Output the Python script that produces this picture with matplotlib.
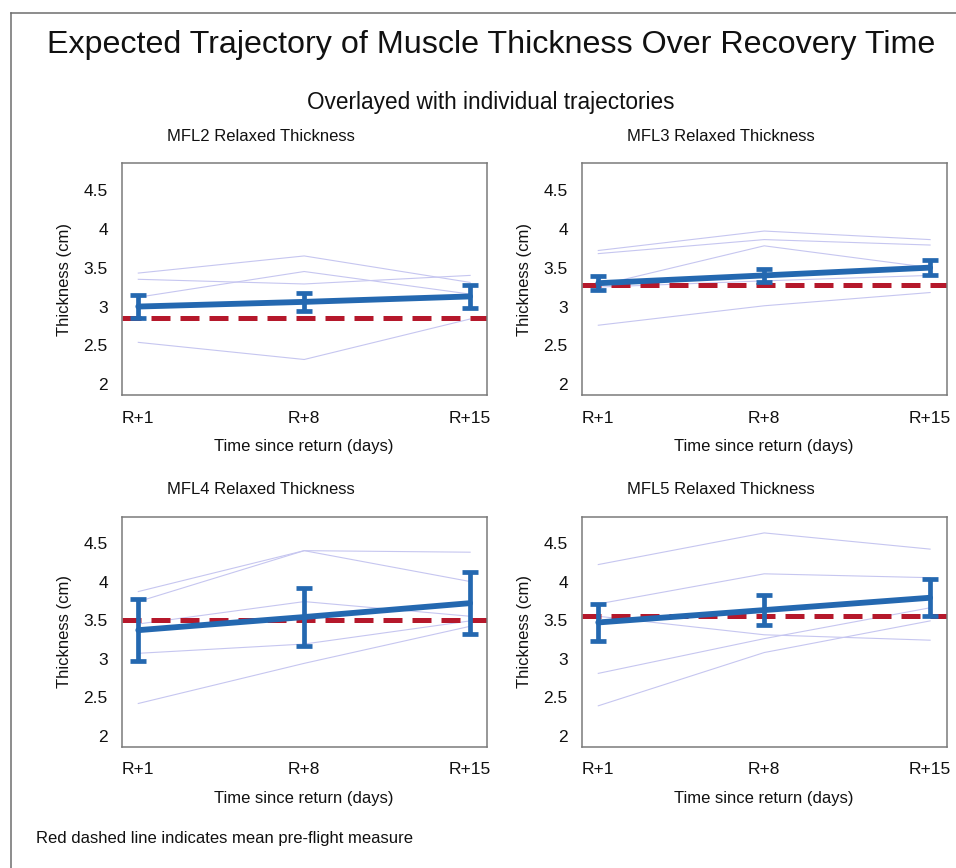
import matplotlib
matplotlib.use("Agg")
import matplotlib.pyplot as plt
from matplotlib.lines import Line2D

plt.rcParams['font.family'] = ['Liberation Sans', 'DejaVu Sans']

timepoints = ["R+1", "R+8", "R+15"]
panel_titles = ["MFL2 Relaxed Thickness", "MFL3 Relaxed Thickness",
                "MFL4 Relaxed Thickness", "MFL5 Relaxed Thickness"]

# expected (model) means and half-widths of error bars
mfl2_mean = [3.00, 3.06, 3.13]
mfl2_err = [0.15, 0.12, 0.15]
mfl3_mean = [3.30, 3.40, 3.50]
mfl3_err = [0.09, 0.08, 0.095]
mfl4_mean = [3.37, 3.54, 3.72]
mfl4_err = [0.40, 0.38, 0.40]
mfl5_mean = [3.47, 3.63, 3.79]
mfl5_err = [0.24, 0.19, 0.24]

# mean pre-flight values (red dashed)
mfl2_pre = 2.85
mfl3_pre = 3.28
mfl4_pre = 3.50
mfl5_pre = 3.55

# individual trajectories
mfl2_subjects = [
    [3.43, 3.65, 3.31],
    [3.35, 3.29, 3.40],
    [3.12, 3.45, 3.16],
    [2.54, 2.32, 2.84],
]
mfl3_subjects = [
    [3.72, 3.97, 3.86],
    [3.68, 3.86, 3.79],
    [3.27, 3.78, 3.50],
    [3.25, 3.33, 3.40],
    [2.76, 3.01, 3.18],
]
mfl4_subjects = [
    [3.87, 4.40, 4.38],
    [3.74, 4.40, 4.00],
    [3.45, 3.74, 3.55],
    [3.07, 3.19, 3.49],
    [2.42, 2.94, 3.42],
]
mfl5_subjects = [
    [4.22, 4.63, 4.42],
    [3.71, 4.10, 4.05],
    [3.55, 3.31, 3.24],
    [2.81, 3.26, 3.66],
    [2.39, 3.08, 3.49],
]

means = [mfl2_mean, mfl3_mean, mfl4_mean, mfl5_mean]
errs = [mfl2_err, mfl3_err, mfl4_err, mfl5_err]
pres = [mfl2_pre, mfl3_pre, mfl4_pre, mfl5_pre]
subjects = [mfl2_subjects, mfl3_subjects, mfl4_subjects, mfl5_subjects]

W, H = 956, 868
fig = plt.figure(figsize=(W / 100, H / 100), dpi=100)

def fx(px):
    return px / W

def fy(py):
    return 1 - py / H

# frame lines (left and top)
fig.add_artist(Line2D([fx(11), fx(11)], [0, fy(13)], color="#6e6e6e", lw=1.1))
fig.add_artist(Line2D([fx(11), 1], [fy(13), fy(13)], color="#6e6e6e", lw=1.1))

fig.text(fx(491), fy(45), "Expected Trajectory of Muscle Thickness Over Recovery Time",
         ha="center", va="center", fontsize=23.2, color="#111111")
fig.text(fx(491), fy(103), "Overlayed with individual trajectories",
         ha="center", va="center", fontsize=16.3, color="#111111")
fig.text(fx(36), fy(839), "Red dashed line indicates mean pre-flight measure",
         ha="left", va="center", fontsize=12, color="#111111")

lefts = [121.7, 581.7]
tops = [163.3, 516.7]
aw = 365.0
ahs = [232.0, 230.0]

blue = "#2468b0"
red = "#b5182b"
lav = "#c6c6f0"

x = list(range(len(timepoints)))

for i in range(4):
    r, c = divmod(i, 2)
    L = lefts[c]
    T = tops[r]
    ah = ahs[r]
    ax = fig.add_axes([fx(L), fy(T + ah), aw / W, ah / H])
    for s in subjects[i]:
        ax.plot(x, s, color=lav, lw=0.8, zorder=1)
    ax.axhline(pres[i], color=red, lw=3.6, dashes=(3.8, 2.0), zorder=2)
    ax.errorbar(x, means[i], yerr=errs[i], color=blue, lw=4.2, elinewidth=3.4,
                capsize=6, capthick=3.4, zorder=3,
                solid_capstyle="round")
    ax.set_xlim(-0.1, 2.1)
    ax.set_ylim(1.86, 4.84)
    ax.set_yticks([2, 2.5, 3, 3.5, 4, 4.5])
    ax.set_yticklabels(["2", "2.5", "3", "3.5", "4", "4.5"])
    ax.set_xticks(x)
    ax.set_xticklabels(timepoints)
    ax.tick_params(axis="both", length=0, labelsize=12.5, colors="#111111")
    ax.tick_params(axis="y", pad=10)
    ax.tick_params(axis="x", pad=11)
    for sp in ax.spines.values():
        sp.set_color("#7a7a7a")
        sp.set_linewidth(1.1)
    ax.set_xlabel("Time since return (days)", fontsize=12, labelpad=10, color="#111111")
    ax.set_ylabel("Thickness (cm)", fontsize=12, labelpad=8, color="#111111")
    fig.text(fx(L + 139), fy(T - 27), panel_titles[i], ha="center", va="center",
             fontsize=12, color="#111111")

fig.savefig("out.png", dpi=100)
